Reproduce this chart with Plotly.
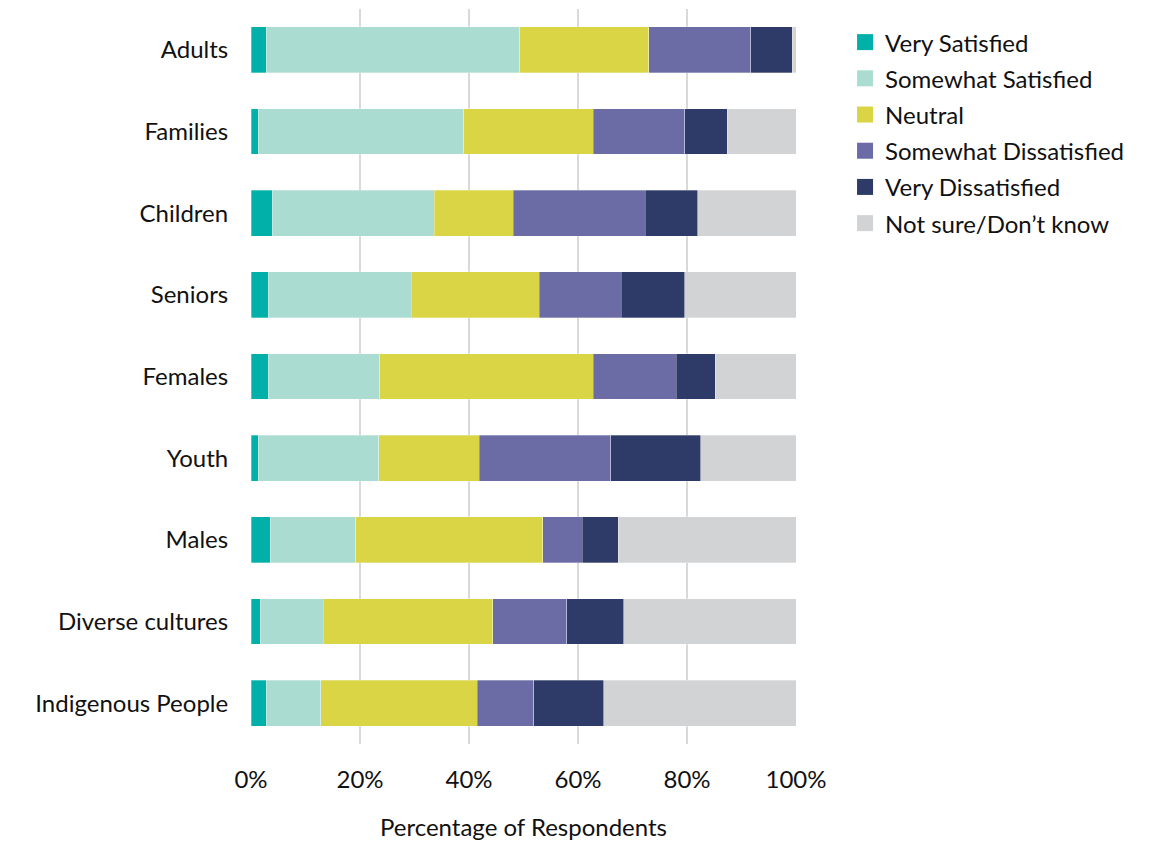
import plotly.graph_objects as go

categories = ["Adults", "Families", "Children", "Seniors", "Females", "Youth",
              "Males", "Diverse cultures", "Indigenous People"]
series_names = ["Very Satisfied", "Somewhat Satisfied", "Neutral",
                "Somewhat Dissatisfied", "Very Dissatisfied", "Not sure/Don\u2019t know"]
very_satisfied = [2.8, 1.3, 3.9, 3.2, 3.2, 1.3, 3.5, 1.7, 2.8]
somewhat_satisfied = [46.5, 37.7, 29.7, 26.2, 20.4, 22.1, 15.7, 11.6, 10.0]
neutral = [23.7, 23.8, 14.5, 23.5, 39.2, 18.5, 34.3, 31.1, 28.7]
somewhat_dissatisfied = [18.7, 16.8, 24.2, 15.0, 15.2, 24.1, 7.3, 13.5, 10.4]
very_dissatisfied = [7.6, 7.8, 9.7, 11.7, 7.2, 16.5, 6.6, 10.5, 12.8]
not_sure = [0.7, 12.6, 18.0, 20.4, 14.8, 17.5, 32.6, 31.6, 35.3]
tick_vals = [0, 20, 40, 60, 80, 100]
tick_text = ["0%", "20%", "40%", "60%", "80%", "100%"]

colors = ["#00b0a9", "#abdcd2", "#d9d544", "#6b6ca5", "#2e3a68", "#d2d3d5"]
series = [very_satisfied, somewhat_satisfied, neutral,
          somewhat_dissatisfied, very_dissatisfied, not_sure]

fig = go.Figure()
for i, (name, vals, col) in enumerate(zip(series_names, series, colors)):
    fig.add_trace(go.Bar(
        y=categories, x=vals, name=name, orientation="h",
        legendgroup=f"g{i}", showlegend=False,
        marker=dict(color=col, line=dict(color="rgba(255,255,255,0.6)", width=0.5)),
        hovertemplate="%{y}: %{x}%<extra>" + name + "</extra>",
    ))
# legend entries with larger square swatches
for i, (name, col) in enumerate(zip(series_names, colors)):
    fig.add_trace(go.Scatter(
        x=[None], y=[None], mode="markers", name=name,
        legendgroup=f"g{i}", showlegend=True,
        marker=dict(symbol="square", size=30, color=col),
        hoverinfo="skip",
    ))

FONT = "Lato, 'Open Sans', sans-serif"
fig.update_layout(
    barmode="stack",
    bargap=0.44,
    width=1146, height=836,
    margin=dict(l=243, r=358, t=1, b=100),
    plot_bgcolor="white", paper_bgcolor="white",
    font=dict(family=FONT, size=24, color="#111111"),
    xaxis=dict(
        range=[0, 100], tickvals=tick_vals, ticktext=tick_text,
        showgrid=True, gridcolor="#d9d9d9", gridwidth=2,
        zeroline=False, showline=False,
        ticks="outside", ticklen=14, tickcolor="rgba(0,0,0,0)",
        tickfont=dict(size=24),
        title=dict(text="Percentage of Respondents", font=dict(size=24), standoff=27),
    ),
    yaxis=dict(
        categoryorder="array", categoryarray=categories, autorange="reversed",
        showgrid=False, zeroline=False, showline=False,
        ticks="outside", ticklen=17, tickcolor="rgba(0,0,0,0)",
        tickfont=dict(size=24),
    ),
    legend=dict(
        x=1.09, y=0.985, xanchor="left", yanchor="top",
        traceorder="grouped", font=dict(size=24),
        itemsizing="trace", itemwidth=30, tracegroupgap=2,
        bgcolor="rgba(0,0,0,0)",
    ),
)
fig.write_html("out.html")
